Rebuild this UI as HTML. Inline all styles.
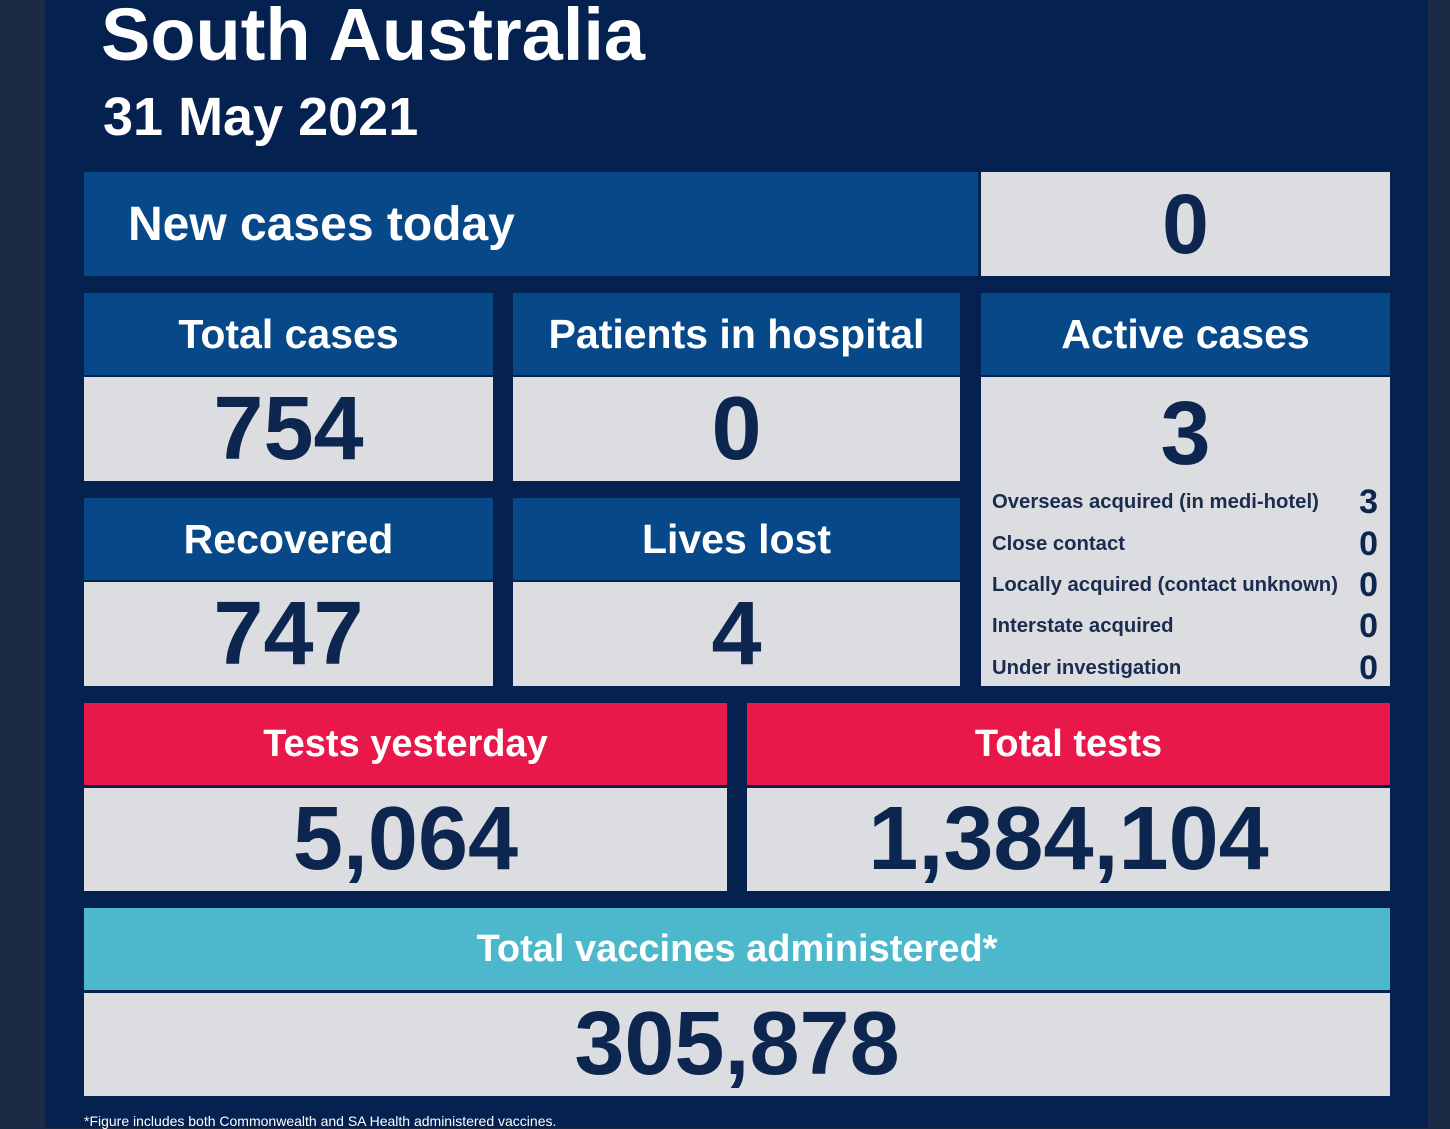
<!DOCTYPE html>
<html><head><meta charset="utf-8"><style>
*{margin:0;padding:0;box-sizing:border-box}
body{width:1450px;height:1128px;background:#1c2b45;position:relative;overflow:hidden;font-family:"Liberation Sans",sans-serif}
.main{position:absolute;left:45px;top:0;width:1383px;height:1128px;background:#05214f}
.b{position:absolute;display:flex;align-items:center;justify-content:center;font-weight:bold}
.h{background:#074889;color:#fff;font-size:41px}
.g{background:#dcdde0;color:#0d2650;font-size:90px}
.r{background:#e8194a;color:#fff;font-size:38px}
.t{background:#4db8cc;color:#fff;font-size:38px}
.w{position:absolute;color:#fff;font-weight:bold}
.row{position:absolute;left:992px;width:386px;display:flex;justify-content:space-between;align-items:center;color:#1c2b50;font-weight:bold;font-size:20.3px;height:36px}
.row span:last-child{font-size:34px;color:#0d2650}
</style></head><body>
<div class="main"></div>
<div class="w" style="left:101px;top:-8px;font-size:74px">South Australia</div>
<div class="w" style="left:103px;top:86px;font-size:54px">31 May 2021</div>

<div class="b h" style="left:84px;top:172px;width:894px;height:104px;justify-content:flex-start;padding-left:44px;font-size:48px">New cases today</div>
<div class="b g" style="left:981px;top:172px;width:409px;height:104px;font-size:84px">0</div>

<div class="b h" style="left:84px;top:293px;width:409px;height:82px">Total cases</div>
<div class="b h" style="left:513px;top:293px;width:447px;height:82px">Patients in hospital</div>
<div class="b h" style="left:981px;top:293px;width:409px;height:82px">Active cases</div>
<div class="b g" style="left:84px;top:377px;width:409px;height:104px">754</div>
<div class="b g" style="left:513px;top:377px;width:447px;height:104px">0</div>
<div class="b g" style="left:981px;top:377px;width:409px;height:309px;align-items:flex-start;padding-top:6px">3</div>

<div class="b h" style="left:84px;top:498px;width:409px;height:82px">Recovered</div>
<div class="b h" style="left:513px;top:498px;width:447px;height:82px">Lives lost</div>
<div class="b g" style="left:84px;top:582px;width:409px;height:104px">747</div>
<div class="b g" style="left:513px;top:582px;width:447px;height:104px">4</div>

<div class="row" style="top:484px"><span>Overseas acquired (in medi-hotel)</span><span>3</span></div>
<div class="row" style="top:526px"><span>Close contact</span><span>0</span></div>
<div class="row" style="top:567px"><span>Locally acquired (contact unknown)</span><span>0</span></div>
<div class="row" style="top:608px"><span>Interstate acquired</span><span>0</span></div>
<div class="row" style="top:650px"><span>Under investigation</span><span>0</span></div>

<div class="b r" style="left:84px;top:703px;width:643px;height:82px">Tests yesterday</div>
<div class="b r" style="left:747px;top:703px;width:643px;height:82px">Total tests</div>
<div class="b g" style="left:84px;top:788px;width:643px;height:103px">5,064</div>
<div class="b g" style="left:747px;top:788px;width:643px;height:103px">1,384,104</div>

<div class="b t" style="left:84px;top:908px;width:1306px;height:82px">Total vaccines administered*</div>
<div class="b g" style="left:84px;top:993px;width:1306px;height:103px">305,878</div>

<div class="w" style="left:84px;top:1113px;font-size:14px;font-weight:normal">*Figure includes both Commonwealth and SA Health administered vaccines.</div>
</body></html>
